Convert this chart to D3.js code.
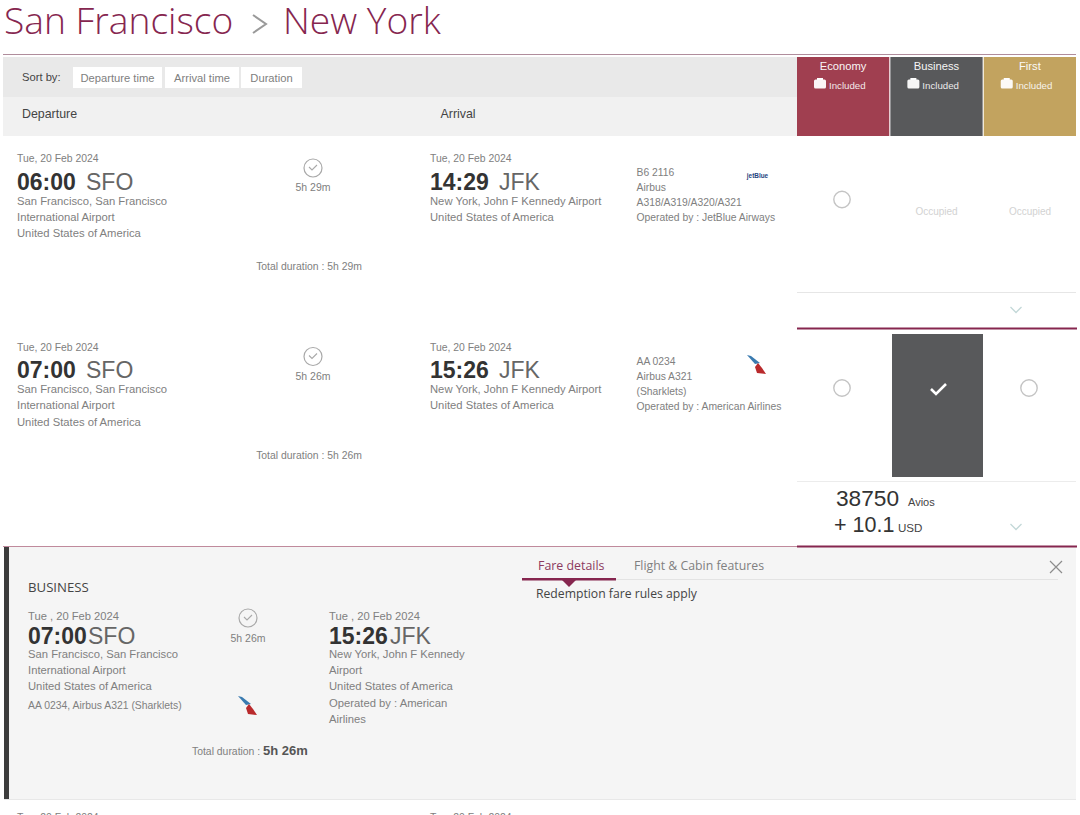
<!DOCTYPE html>
<html><head><meta charset="utf-8">
<script src="https://cdn.jsdelivr.net/npm/d3@7/dist/d3.min.js"></script>
<style>html,body{margin:0;padding:0;background:#fff;overflow:hidden}svg{display:block}
text{font-family:"Liberation Sans",Arial,sans-serif}</style></head><body>
<svg id="c" width="1080" height="815"></svg>
<script>
const routeCities = ["San Francisco", "New York"];
const sortLabels = ["Departure time", "Arrival time", "Duration"];
const cabins = ["Economy", "Business", "First"];
const cabinColors = ["#a03f50", "#58595b", "#c2a35f"];
const depTimes = ["06:00", "07:00"];
const arrTimes = ["14:29", "15:26"];
const durations = ["5h 29m", "5h 26m"];
const dateLabel = "Tue, 20 Feb 2024";
const depLines = ["San Francisco, San Francisco", "International Airport", "United States of America"];
const arrLines = ["New York, John F Kennedy Airport", "United States of America"];
const flightLines = [
  ["B6 2116", "Airbus", "A318/A319/A320/A321", "Operated by : JetBlue Airways"],
  ["AA 0234", "Airbus A321", "(Sharklets)", "Operated by : American Airlines"]
];
const panelArrLines = ["New York, John F Kennedy", "Airport", "United States of America", "Operated by : American", "Airlines"];
const tabs = ["Fare details", "Flight & Cabin features"];

const MAROON = "#86264f", GREY = "#808080", DARK = "#333333", MID = "#666666";
const OPEN = '"Open Sans",sans-serif';
const svg = d3.select("#c");

function txt(p, x, y, s, size, fill, o = {}) {
  return p.append("text").attr("x", x).attr("y", y).attr("font-size", size).attr("fill", fill)
    .attr("font-weight", o.weight || 400).attr("text-anchor", o.anchor || "start")
    .style("font-family", o.family || null).text(s);
}
function rect(p, x0, y0, x1, y1, fill) {
  return p.append("rect").attr("x", x0).attr("y", y0).attr("width", x1 - x0).attr("height", y1 - y0).attr("fill", fill);
}
function clock(p, x, y) {
  p.append("circle").attr("cx", x).attr("cy", y).attr("r", 9).attr("fill", "none").attr("stroke", "#a9a9a9").attr("stroke-width", 1.2);
  p.append("path").attr("d", `M${x-4},${y-1}L${x-1},${y+2}L${x+4},${y-3}`).attr("fill", "none").attr("stroke", "#a9a9a9").attr("stroke-width", 1.1);
}
function radio(p, x, y) {
  p.append("circle").attr("cx", x).attr("cy", y).attr("r", 8.2).attr("fill", "#fff").attr("stroke", "#c4c4c4").attr("stroke-width", 1.4);
}
function chevron(p, x, y) {
  p.append("path").attr("d", `M${x-5.5},${y-3}L${x},${y+2.5}L${x+5.5},${y-3}`).attr("fill", "none").attr("stroke", "#c3d8d8").attr("stroke-width", 1.3);
}
function aaLogo(p, x, y) {
  p.append("path").attr("d", `M${x-9},${y-10}L${x-5},${y-9}L${x+4},${y-2}L${x-1},${y-1}Z`).attr("fill", "#3a7bb0");
  p.append("path").attr("d", `M${x+2},${y-2}L${x-1},${y+2}L${x+1},${y+8}L${x+10},${y+9}L${x+6},${y+3}Z`).attr("fill", "#b92a2c");
}

// Title
const titleSize = 37.2;
txt(svg, 4, 34, routeCities[0], titleSize, MAROON, {family: OPEN, weight: 300});
svg.append("path").attr("d", "M253,15L266,24L253,33").attr("fill", "none").attr("stroke", "#9a9a9a").attr("stroke-width", 2);
txt(svg, 283, 34, routeCities[1], titleSize, MAROON, {family: OPEN, weight: 300});
rect(svg, 3, 54, 1076, 55, "#b08d9c");

// Sort band and header band
rect(svg, 3, 57, 797, 97, "#e9e9e9");
rect(svg, 3, 97, 797, 136, "#f1f1f1");
txt(svg, 22, 81, "Sort by:", 11.2, "#444");
const sortX = d3.scaleOrdinal().domain(sortLabels).range([73, 165, 241]);
const sortW = d3.scaleOrdinal().domain(sortLabels).range([89, 74, 61]);
const sortG = svg.append("g").selectAll("g").data(sortLabels).join("g")
  .attr("transform", d => `translate(${sortX(d)},67)`);
sortG.append("rect").attr("width", d => sortW(d)).attr("height", 21).attr("fill", "#fff");
sortG.append("text").attr("x", d => sortW(d) / 2).attr("y", 14.5).attr("text-anchor", "middle").attr("font-size", 11.2).attr("fill", GREY).text(d => d);
txt(svg, 22, 117.5, "Departure", 12.4, "#444");
txt(svg, 440.5, 117.5, "Arrival", 12.4, "#444");

// Cabin columns
const cabinX = d3.scaleBand().domain(cabins).range([797, 1076]).paddingInner(0.012);
const cabG = svg.append("g").selectAll("g").data(cabins).join("g")
  .attr("transform", d => `translate(${cabinX(d)},57)`);
cabG.append("rect").attr("width", cabinX.bandwidth()).attr("height", 79).attr("fill", (d, i) => cabinColors[i]);
cabG.append("text").attr("x", cabinX.bandwidth() / 2).attr("y", 13).attr("text-anchor", "middle").attr("font-size", 11.2).attr("fill", "#fff").attr("opacity", .95).text(d => d);
cabG.append("text").attr("x", 32).attr("y", 32).attr("font-size", 9.7).attr("fill", "#fff").attr("opacity", .88).text("Included");
cabG.append("rect").attr("x", 17).attr("y", 22.5).attr("width", 12).attr("height", 9).attr("rx", 1.5).attr("fill", "#fff").attr("opacity", .95);
cabG.append("rect").attr("x", 20).attr("y", 21).attr("width", 6).attr("height", 2).attr("fill", "#fff");

// Flight rows
const rowY = d3.scaleOrdinal().domain(depTimes).range([0, 188.5]);
const rows = svg.append("g").selectAll("g").data(depTimes).join("g")
  .attr("transform", d => `translate(0,${rowY(d)})`);
rows.each(function (d, i) {
  const g = d3.select(this);
  txt(g, 17, 162, dateLabel, 10.4, GREY);
  txt(g, 17, 189.5, d, 23, DARK, {weight: 700});
  txt(g, 86, 189.5, "SFO", 23, MID);
  depLines.forEach((l, k) => txt(g, 17, 204.8 + k * 16.1, l, 11.25, GREY));
  clock(g, 313, 168);
  txt(g, 313, 191, durations[i], 10.5, GREY, {anchor: "middle"});
  txt(g, 309, 270, "Total duration : " + durations[i], 10.4, GREY, {anchor: "middle"});
  txt(g, 430, 162, dateLabel, 10.4, GREY);
  txt(g, 430, 189.5, arrTimes[i], 23, DARK, {weight: 700});
  txt(g, 499, 189.5, "JFK", 23, MID);
  arrLines.forEach((l, k) => txt(g, 430, 204.8 + k * 16.1, l, 11.25, GREY));
  flightLines[i].forEach((l, k) => txt(g, 636.5, 176 + k * 15, l, 10.35, GREY));
});
txt(svg, 757.5, 178, "jetBlue", 6.4, "#27447f", {weight: 700, anchor: "middle"});
aaLogo(svg, 756, 365);

// Row 1 fares
radio(svg, 842, 199.5);
txt(svg, 936.5, 215, "Occupied", 10, "#d2d2d2", {anchor: "middle"});
txt(svg, 1030, 215, "Occupied", 10, "#d2d2d2", {anchor: "middle"});
rect(svg, 797, 292, 1076, 293, "#e6e6e6");
chevron(svg, 1016, 310);
rect(svg, 797, 327.5, 1077, 329.5, MAROON);

// Row 2 fares
radio(svg, 842, 388);
radio(svg, 1029, 388);
rect(svg, 892, 334, 983, 477, "#58595b");
svg.append("path").attr("d", "M931,389L936,394L946,384").attr("fill", "none").attr("stroke", "#fff").attr("stroke-width", 2.6);
rect(svg, 797, 481, 1076, 482, "#ececec");
txt(svg, 836, 506, "38750", 22.7, DARK);
txt(svg, 908, 506, "Avios", 11, "#444");
txt(svg, 834, 532, "+ 10.1", 21.5, DARK);
txt(svg, 898, 532, "USD", 11.6, "#444");
chevron(svg, 1016, 527);

// Panel
rect(svg, 4, 547, 1076, 799, "#f5f5f5");
rect(svg, 4, 547, 9, 799, "#3d3d3d");
rect(svg, 4, 799, 1076, 800, "#e8e8e8");
rect(svg, 3, 546, 797, 547, "#c08a9c");
rect(svg, 797, 545.5, 1077, 547.5, MAROON);
txt(svg, 28, 592, "BUSINESS", 13.2, "#444", {family: OPEN});
const panelDate = "Tue , 20 Feb 2024";
txt(svg, 28, 620, panelDate, 11.2, GREY);
txt(svg, 28, 643.5, depTimes[1], 23, DARK, {weight: 700});
txt(svg, 88, 643.5, "SFO", 23, MID);
depLines.forEach((l, k) => txt(svg, 28, 658 + k * 16.2, l, 11.25, GREY));
txt(svg, 28, 709, flightLines[1][0] + ", Airbus A321 (Sharklets)", 10.4, GREY);
clock(svg, 248, 618);
txt(svg, 248, 642, durations[1], 10.5, GREY, {anchor: "middle"});
aaLogo(svg, 247, 706);
txt(svg, 192, 754.5, "Total duration : ", 10.4, GREY);
txt(svg, 263, 754.5, durations[1], 13, "#555", {weight: 700});
txt(svg, 329, 620, panelDate, 11.2, GREY);
txt(svg, 329, 643.5, arrTimes[1], 23, DARK, {weight: 700});
txt(svg, 390, 643.5, "JFK", 23, MID);
panelArrLines.forEach((l, k) => txt(svg, 329, 658 + k * 16.2, l, 11.25, GREY));

// Tabs
const tabX = d3.scaleOrdinal().domain(tabs).range([538, 634]);
svg.append("g").selectAll("text").data(tabs).join("text")
  .attr("x", d => tabX(d)).attr("y", 570).attr("font-size", d => d === tabs[0] ? 12.4 : 12.3)
  .style("font-family", OPEN).attr("fill", (d, i) => i ? "#808080" : "#8c3a5f").text(d => d);
rect(svg, 522, 579, 1058, 580, "#e3e3e3");
rect(svg, 522, 578, 616, 580.5, MAROON);
svg.append("path").attr("d", "M562,580L576,580L569,587Z").attr("fill", MAROON);
txt(svg, 536, 598, "Redemption fare rules apply", 12.2, "#444", {family: OPEN});
svg.append("path").attr("d", "M1050,561L1062,573M1062,561L1050,573").attr("fill", "none").attr("stroke", "#8c8c8c").attr("stroke-width", 1.2);

// Next row, cut off by the window
txt(svg, 17, 821, dateLabel, 10.4, GREY);
txt(svg, 430, 821, dateLabel, 10.4, GREY);
</script></body></html>
